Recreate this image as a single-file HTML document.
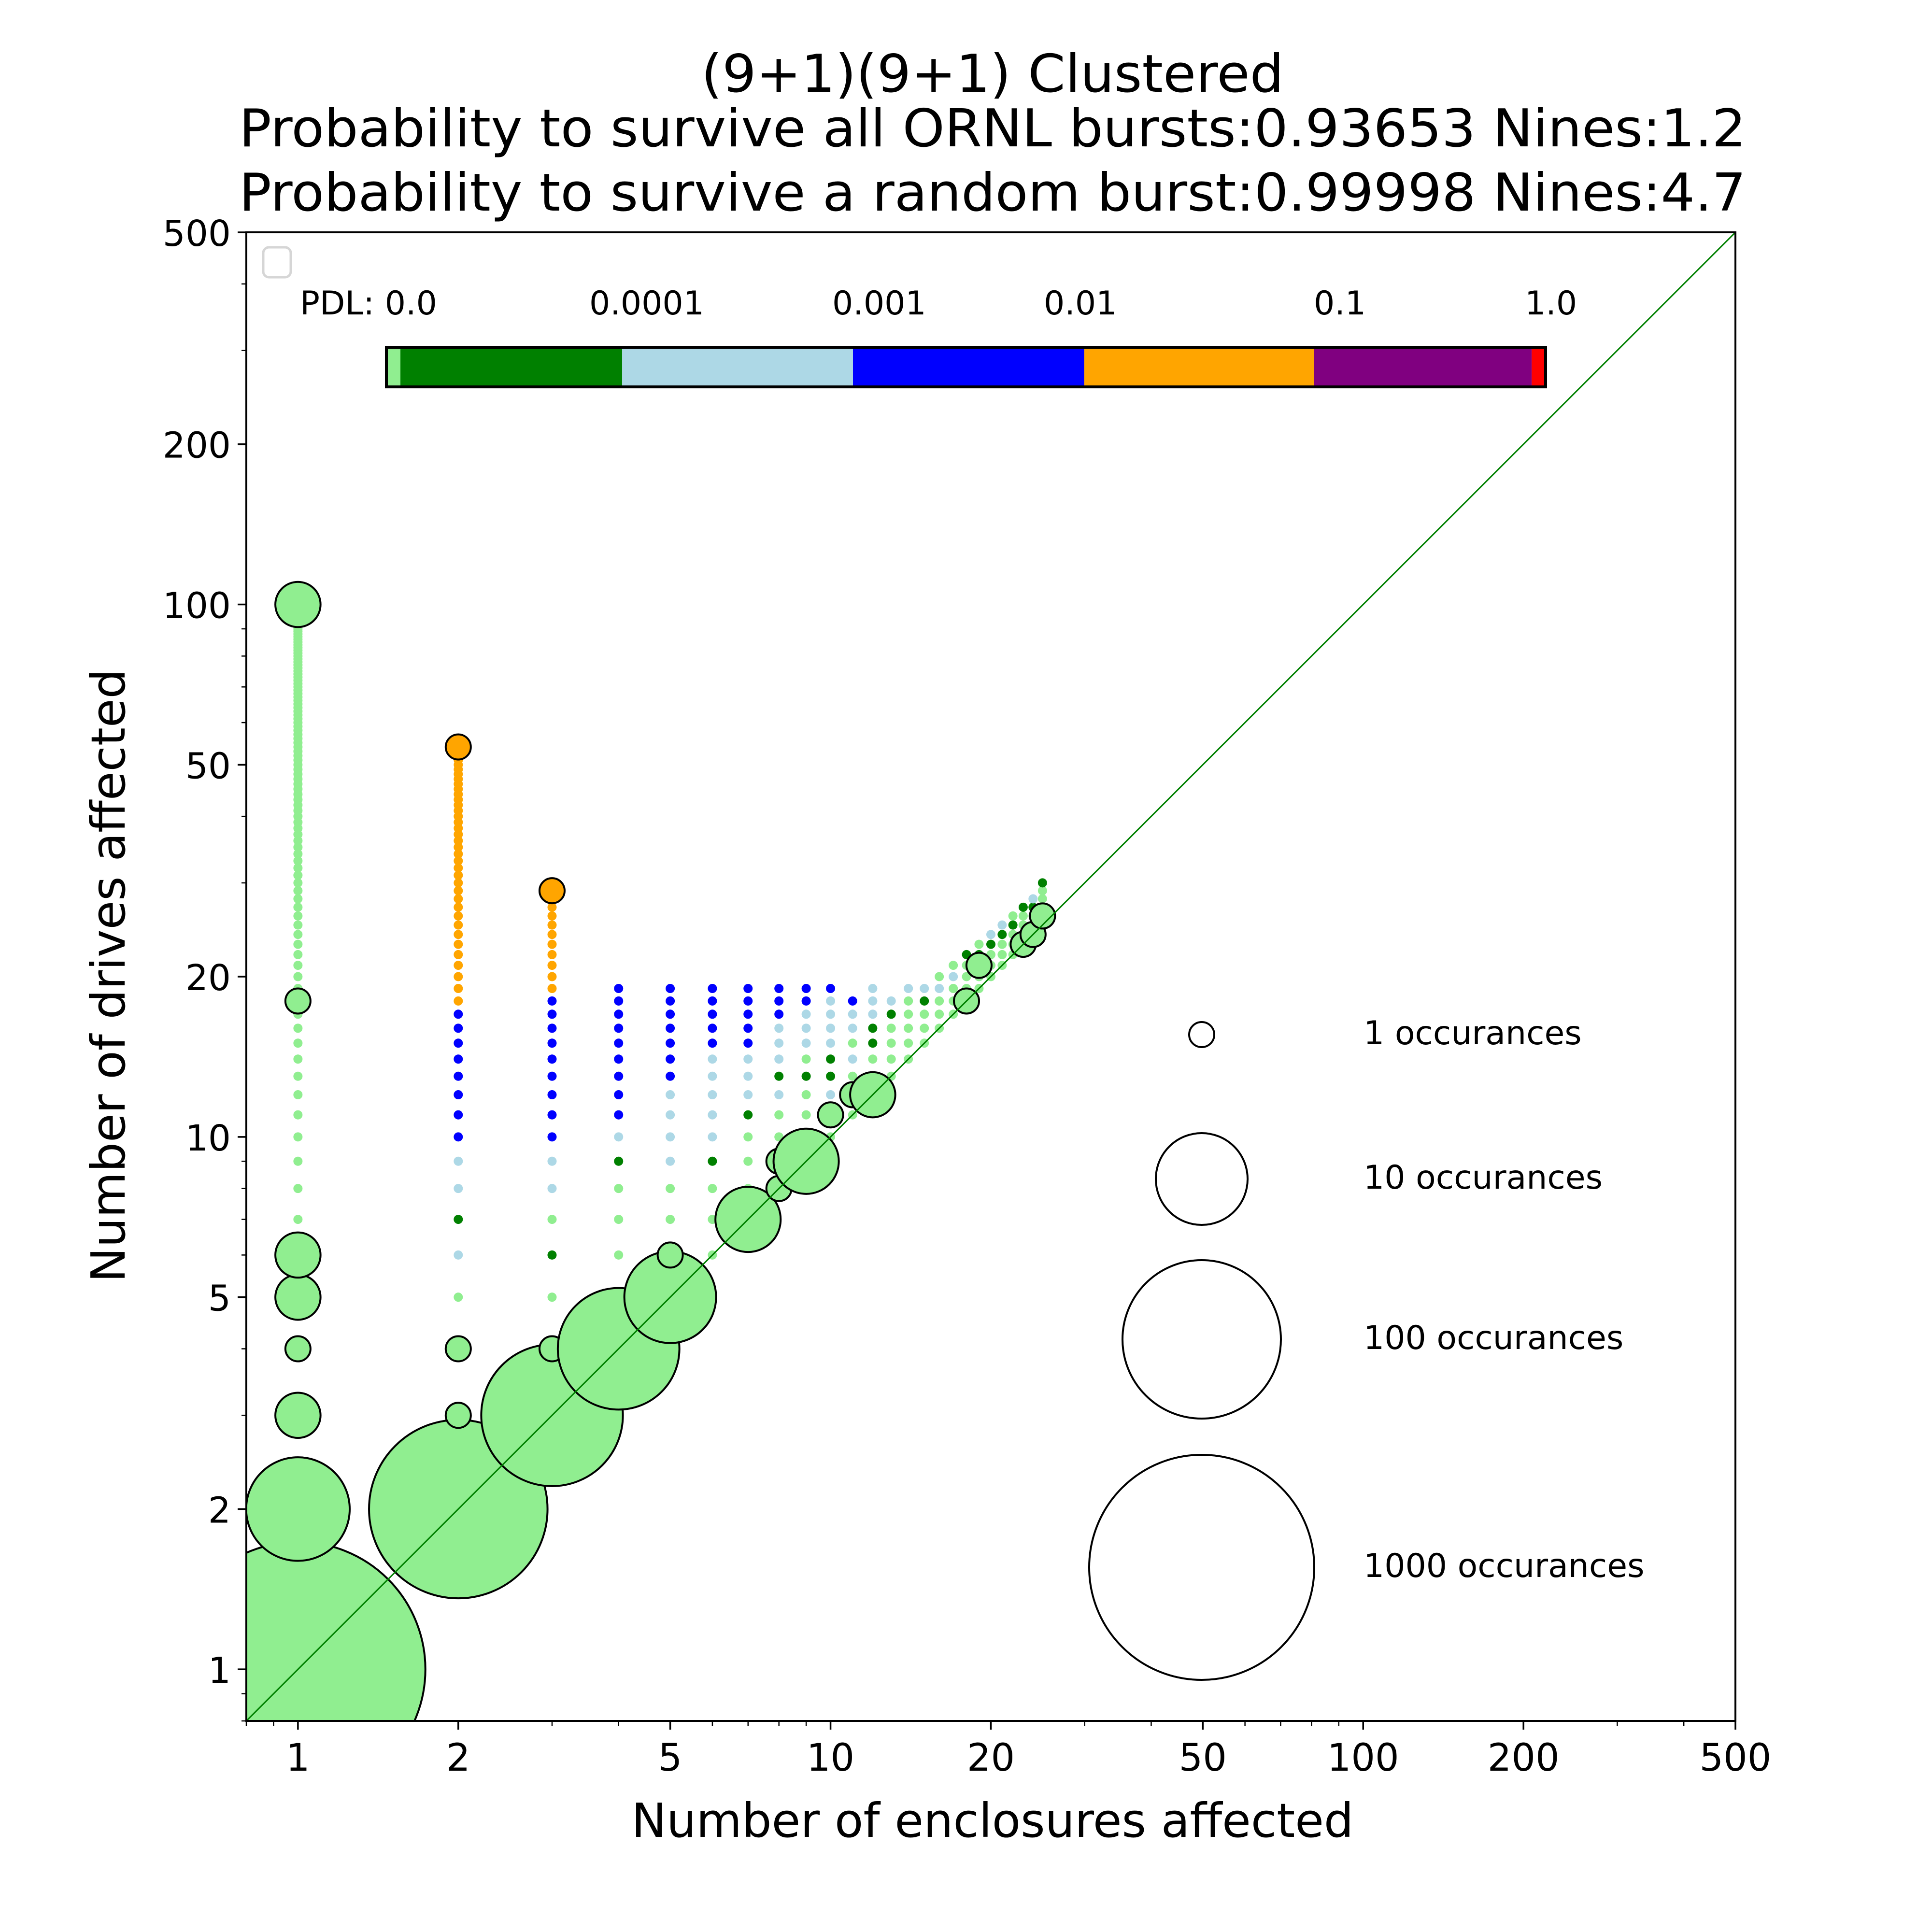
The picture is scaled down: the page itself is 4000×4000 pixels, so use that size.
<!DOCTYPE html>
<html><head><meta charset="utf-8">
<style>
html,body{margin:0;padding:0;background:#fff;}
svg{display:block;font-family:"DejaVu Sans","Liberation Sans",sans-serif;}
</style></head>
<body>
<svg id="chart" width="4000" height="4000" viewBox="0 0 4000 4000" xmlns="http://www.w3.org/2000/svg">
<rect width="4000" height="4000" fill="#fff"/>
<g font-size="108" text-anchor="middle" fill="#000">
<text x="2055" y="190" textLength="1206" lengthAdjust="spacingAndGlyphs">(9+1)(9+1) Clustered</text>
<text x="2055" y="303" textLength="3120" lengthAdjust="spacingAndGlyphs">Probability to survive all ORNL bursts:0.93653 Nines:1.2</text>
<text x="2055" y="436" textLength="3120" lengthAdjust="spacingAndGlyphs">Probability to survive a random burst:0.99998 Nines:4.7</text>
</g>
<g id="plot"></g>
<g id="axes"></g>
<rect x="545" y="512" width="57" height="62" rx="12" fill="#fff" stroke="#d6d6d6" stroke-width="5"/>
<g id="cbar"></g>
<g id="sizeleg"></g>
<text x="2055" y="3803" font-size="97" text-anchor="middle">Number of enclosures affected</text>
<text x="0" y="0" font-size="97" text-anchor="middle" transform="translate(258,2020) rotate(-90)">Number of drives affected</text>
</svg>
<script>
// ---- data ----
const colorCodes = {g:"#90ee90", G:"#008000", b:"#add8e6", B:"#0000ff", o:"#ffa500"};
const dotX   = [1, 2, 3, 4, 5, 6, 7, 8, 9, 10, 11, 12, 13, 14, 15, 16, 17, 18, 19, 20, 21, 22, 23, 24, 25];
const dotY0  = [7, 5, 5, 5, 7, 6, 8, 10, 10, 10, 11, 12, 13, 14, 15, 16, 17, 18, 19, 20, 21, 22, 24, 25, 25];
const dotCodes = [
  "g".repeat(93),
  "gbGbbBBBBBBBB" + "o".repeat(36),
  "gGgbbBBBBBBBBB" + "o".repeat(10),
  "ggggGbBBBBBBBBB",
  "ggbbbbBBBBBBB",
  "gggGbbbbbBBBBB",
  "gggGbbbBBBBB",
  "ggbGbbbBBB",
  "gggGgbbbBB",
  "ggbGGbbbbB",
  "gGgbgbbB",
  "gggGGbbb",
  "ggggGb",
  "gggggb",
  "gggGb",
  "gggbg",
  "gggbg",
  "ggggG",
  "gggGg",
  "gggGb",
  "gggGb",
  "gggGg",
  "gggG",
  "ggGb",
  "gggggG"
];
const bubX = [1, 1, 1, 1, 1, 1, 1, 1, 2, 2, 2, 2, 3, 3, 3, 4, 5, 5, 7, 8, 8, 9, 10, 11, 12, 18, 19, 23, 24, 25];
const bubY = [1, 2, 3, 4, 5, 6, 18, 100, 2, 3, 4, 54, 3, 4, 29, 4, 5, 6, 7, 8, 9, 9, 11, 12, 12, 18, 21, 23, 24, 26];
const bubCount = [2800, 15, 2, 1, 2, 2, 1, 2, 200, 1, 1, 1, 56, 1, 1, 28, 10, 1, 4, 1, 1, 4, 1, 1, 2, 1, 1, 1, 1, 1];
const bubColor = ["g","g","g","g","g","g","g","g","g","g","g","o","g","g","o","g","g","g","g","g","g","g","g","g","g","g","g","g","g","g"];
const majorTicks = [1, 2, 5, 10, 20, 50, 100, 200, 500];
const majorTickLabels = ["1", "2", "5", "10", "20", "50", "100", "200", "500"];
const legendCounts = [1, 10, 100, 1000];
const legendLabels = ["1 occurances", "10 occurances", "100 occurances", "1000 occurances"];
const cbarColors = ["#90ee90", "#008000", "#add8e6", "#0000ff", "#ffa500", "#800080", "#ff0000"];
const cbarBounds = [0, 0.0121, 0.2034, 0.4025, 0.602, 0.8004, 0.988, 1];
const cbarLabels = ["PDL: 0.0", "0.0001", "0.001", "0.01", "0.1", "1.0"];

// ---- geometry ----
const L = 510, R = 3593, T = 481, B = 3563;
const lmin = Math.log10(0.8), lmax = Math.log10(500);
const xs = v => L + (Math.log10(v) - lmin) / (lmax - lmin) * (R - L);
const ys = v => B - (Math.log10(v) - lmin) / (lmax - lmin) * (B - T);
const rad = n => 26 + 69 * Math.log10(n);
const NS = "http://www.w3.org/2000/svg";
function mk(tag, attrs, parent) {
  const e = document.createElementNS(NS, tag);
  for (const k in attrs) e.setAttribute(k, attrs[k]);
  parent.appendChild(e);
  return e;
}
const plot = document.getElementById("plot");
const clip = mk("clipPath", {id: "pc"}, plot);
mk("rect", {x: L, y: T, width: R - L, height: B - T}, clip);
const inner = mk("g", {"clip-path": "url(#pc)"}, plot);

// dots
for (let c = 0; c < dotX.length; c++) {
  const codes = dotCodes[c];
  for (let i = 0; i < codes.length; i++) {
    const d = mk("circle", {cx: xs(dotX[c]), cy: ys(dotY0[c] + i), r: 9.5, fill: colorCodes[codes[i]]}, inner);
    
    
  }
}
// bubbles
for (let i = 0; i < bubX.length; i++) {
  const b = mk("circle", {cx: xs(bubX[i]), cy: ys(bubY[i]), r: rad(bubCount[i]), fill: colorCodes[bubColor[i]], stroke: "#000", "stroke-width": 4}, inner);
  
  
}
// diagonal
const diag = mk("line", {x1: xs(0.8), y1: ys(0.8), x2: xs(500), y2: ys(500), stroke: "#008000", "stroke-width": 3}, inner);



// axes
const axes = document.getElementById("axes");
const frame = mk("rect", {x: L, y: T, width: R - L, height: B - T, fill: "none", stroke: "#000", "stroke-width": 4}, axes);


for (let dec = -1; dec <= 2; dec++) {
  for (let m = 1; m <= 9; m++) {
    const v = m * Math.pow(10, dec);
    if (v < 0.8 - 1e-9 || v > 500 + 1e-9) continue;
    const major = majorTicks.some(t => Math.abs(t - v) < 1e-9);
    const len = major ? 18 : 10;
    const xt = mk("line", {x1: xs(v), y1: B, x2: xs(v), y2: B + len, stroke: "#000", "stroke-width": major ? 3.5 : 2.5}, axes);
    
    
    const yt = mk("line", {x1: L, y1: ys(v), x2: L - len, y2: ys(v), stroke: "#000", "stroke-width": major ? 3.5 : 2.5}, axes);
    
    
  }
}
for (let i = 0; i < majorTicks.length; i++) {
  const tx = mk("text", {x: xs(majorTicks[i]), y: B + 103, "font-size": 78, "text-anchor": "middle"}, axes);
  tx.textContent = majorTickLabels[i];
  
  
  const ty = mk("text", {x: L - 32, y: ys(majorTicks[i]) + 28, "font-size": 74, "text-anchor": "end"}, axes);
  ty.textContent = majorTickLabels[i];
  
  
}

// colorbar
const cb = document.getElementById("cbar");
const cbL = 800, cbR = 3200, cbT = 719, cbB = 801;
for (let i = 0; i < cbarColors.length; i++) {
  const x0 = cbL + cbarBounds[i] * (cbR - cbL), x1 = cbL + cbarBounds[i + 1] * (cbR - cbL);
  const s = mk("rect", {x: x0, y: cbT, width: x1 - x0, height: cbB - cbT, fill: cbarColors[i]}, cb);
  
  
}
const cbf = mk("rect", {x: cbL, y: cbT, width: cbR - cbL, height: cbB - cbT, fill: "none", stroke: "#000", "stroke-width": 6}, cb);


const cbLabelX = [621, 1220, 1723, 2161, 2720, 3157];
for (let i = 0; i < cbarLabels.length; i++) {
  const t = mk("text", {x: cbLabelX[i], y: 651, "font-size": 68}, cb);
  t.textContent = cbarLabels[i];
  
  
}

// size legend
const sl = document.getElementById("sizeleg");
const legCy = [2142, 2441, 2773, 3245];
for (let i = 0; i < legendCounts.length; i++) {
  const c = mk("circle", {cx: 2488, cy: legCy[i], r: rad(legendCounts[i]), fill: "none", stroke: "#000", "stroke-width": 4}, sl);
  
  
  const t = mk("text", {x: 2823, y: legCy[i] + 20, "font-size": 68}, sl);
  t.textContent = legendLabels[i];
  
  
}
</script>
</body></html>
